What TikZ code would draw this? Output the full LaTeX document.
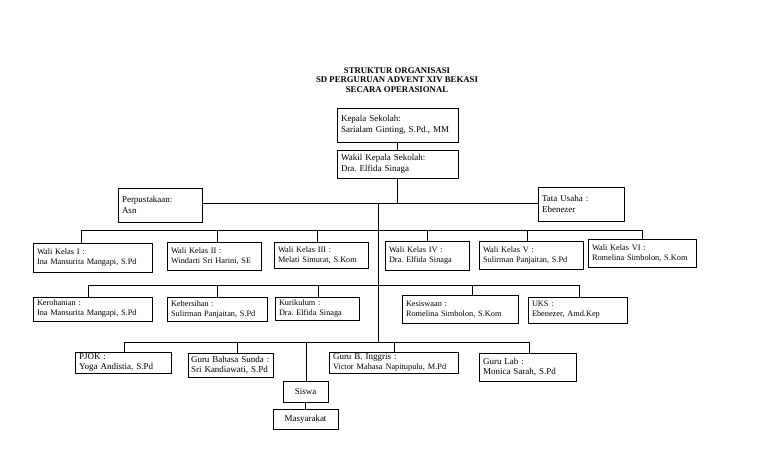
\documentclass[tikz,border=0pt]{standalone}
\usepackage{fontspec}
\setmainfont{Liberation Serif}
\frenchspacing
\newcommand{\fa}{\fontsize{9}{10.6}\selectfont}
\newcommand{\fb}{\fontsize{8.3}{10}\selectfont}
\newcommand{\ft}{\fontsize{8.75}{9.6}\selectfont\bfseries}
\begin{document}
\frenchspacing
\begin{tikzpicture}[x=1pt,y=-1pt,
  bx/.style={draw, line width=0.8pt, inner xsep=4pt, inner ysep=0.5pt, align=left, font=\fa},
  bxs/.style={bx, font=\fb},
  cx/.style={draw, line width=0.8pt, inner sep=1pt, align=center, font=\fa},
  ln/.style={line width=0.7pt}]
\path[use as bounding box] (0,0) rectangle (768,466);
% title
\node[align=center, font=\ft] (title) at (397,80) {STRUKTUR ORGANISASI\\SD PERGURUAN ADVENT XIV BEKASI\\SECARA OPERASIONAL};
% top
\node[bx, text width=113pt, minimum height=34pt] (kepala) at (397.5,125) {Kepala Sekolah:\\Sarialam Ginting, S.Pd., MM};
\node[bx, text width=113pt, minimum height=28pt] (wakil) at (397.5,164) {Wakil Kepala Sekolah:\\Dra. Elfida Sinaga};
\node[bx, text width=76pt, minimum height=34pt] (perpus) at (160,205) {Perpustakaan:\\Asn};
\node[bx, text width=78pt, minimum height=34pt] (tu) at (581,204) {Tata Usaha :\\Ebenezer};
% wali kelas
\node[bxs, text width=111pt, minimum height=29pt] (w1) at (92.5,257.5) {Wali Kelas I :\\Ina Mansurita Mangapi, S.Pd};
\node[bxs, text width=86pt, minimum height=28pt] (w2) at (214,256) {Wali Kelas II :\\Windarti Sri Harini, SE};
\node[bxs, text width=86pt, minimum height=26pt] (w3) at (321,255) {Wali Kelas III :\\Melati Simurat, S.Kom};
\node[bxs, text width=76pt, minimum height=29pt] (w4) at (427,255.5) {Wali Kelas IV :\\Dra. Elfida Sinaga};
\node[bxs, text width=96pt, minimum height=28pt] (w5) at (531,255) {Wali Kelas V :\\Sulirman Panjaitan, S.Pd};
\node[bxs, text width=100pt, minimum height=28pt] (w6) at (642,253) {Wali Kelas VI :\\Romelina Simbolon, S.Kom};
% second row
\node[bxs, text width=111pt, minimum height=24pt] (k1) at (92.5,309) {Kerohanian :\\Ina Mansurita Mangapi, S.Pd};
\node[bxs, text width=92pt, minimum height=24pt] (k2) at (217,309) {Kebersihan :\\Sulirman Panjaitan, S.Pd};
\node[bxs, text width=76pt, minimum height=23pt] (k3) at (317,308.5) {Kurikulum :\\Dra. Elfida Sinaga};
\node[bxs, text width=108pt, minimum height=28pt] (k4) at (460,309) {Kesiswaan :\\Romelina Simbolon, S.Kom};
\node[bxs, text width=91pt, minimum height=26pt] (k5) at (577.5,310) {UKS :\\Ebenezer, Amd.Kep};
% guru row
\node[bx, text width=88pt, minimum height=21pt] (g1) at (123,362.5) {PJOK :\\Yoga Andistia, S.Pd};
\node[bx, inner xsep=3pt, text width=79pt, minimum height=24pt] (g2) at (230.5,365) {Guru Bahasa Sunda~:\\Sri Kandiawati, S.Pd};
\node[bx, text width=121pt, minimum height=21pt] (g3) at (393.5,362.5) {Guru B. Inggris :\\{\fb Victor Mahasa Napitupulu, M.Pd}};
\node[bx, text width=89pt, minimum height=28pt] (g4) at (527.5,367) {Guru Lab :\\Monica Sarah, S.Pd};
\node[cx, minimum width=45pt, minimum height=21pt] (siswa) at (305.5,391.5) {Siswa};
\node[cx, minimum width=65pt, minimum height=20pt] (masy) at (305.5,419) {Masyarakat};
% connectors
\coordinate (t0) at (378,203);
\coordinate (t3) at (378,342);
\draw[ln] (kepala.south) -- (wakil.north);
\draw[ln] (perpus.east |- t0) -- (tu.west |- t0);
\draw[ln] (wakil.south) -- (wakil.south |- t0);
\draw[ln] (t0) -- (t3);
% bus 1
\coordinate (d11) at (81,230);
\coordinate (d12) at (217,230);
\coordinate (d13) at (317,230);
\coordinate (d14) at (427,230);
\coordinate (d15) at (527,230);
\coordinate (d16) at (642,230);
\draw[ln] (d11) -- (d16);
\draw[ln] (d11) -- (d11 |- w1.north) (d12) -- (d12 |- w2.north) (d13) -- (d13 |- w3.north)
  (d14) -- (d14 |- w4.north) (d15) -- (d15 |- w5.north) (d16) -- (d16 |- w6.north);
% bus 2
\coordinate (d21) at (88,285);
\coordinate (d22) at (217,285);
\coordinate (d23) at (318,285);
\coordinate (d24) at (472,285);
\coordinate (d25) at (579,285);
\draw[ln] (d21) -- (d25);
\draw[ln] (d21) -- (d21 |- k1.north) (d22) -- (d22 |- k2.north) (d23) -- (d23 |- k3.north)
  (d24) -- (d24 |- k4.north) (d25) -- (d25 |- k5.north);
% bus 3
\coordinate (d31) at (124,342);
\coordinate (d32) at (237,342);
\coordinate (d33) at (306,342);
\coordinate (d34) at (394,342);
\coordinate (d35) at (529,342);
\draw[ln] (d31) -- (d35);
\draw[ln] (d31) -- (d31 |- g1.north) (d32) -- (d32 |- g2.north) (d33) -- (d33 |- siswa.north)
  (d34) -- (d34 |- g3.north) (d35) -- (d35 |- g4.north);
\draw[ln] (siswa.south) -- (masy.north);
\end{tikzpicture}
\end{document}
